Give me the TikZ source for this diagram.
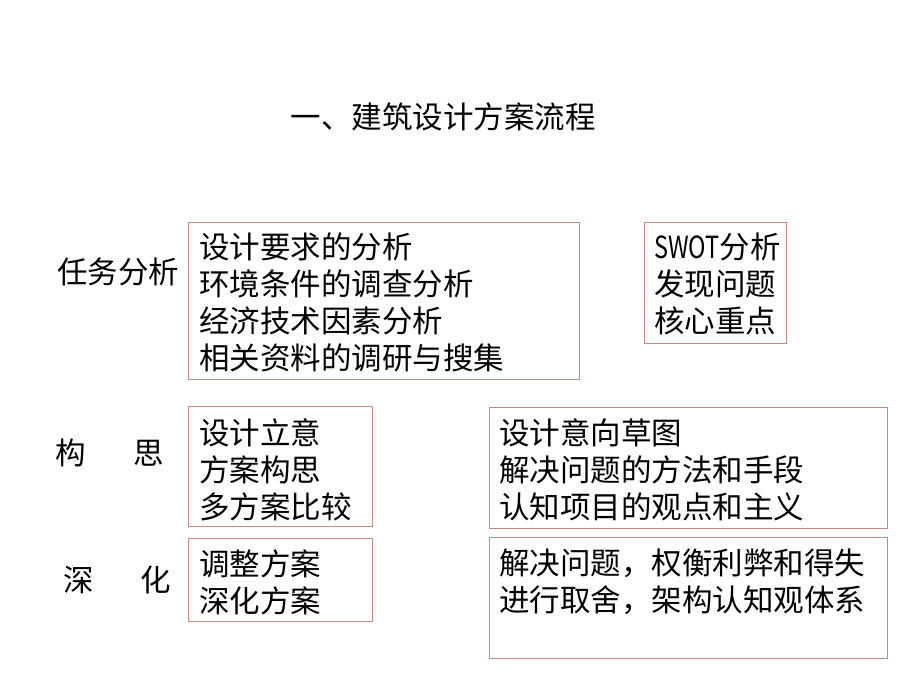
\documentclass[tikz,border=0pt]{standalone}
\usepackage{fontspec}
\usepackage{graphicx}
\setmainfont{Noto Sans CJK SC}
\definecolor{boxline}{RGB}{196,140,128}
\tikzset{
  box/.style={draw=boxline, line width=1.2pt, inner sep=0pt, anchor=north west},
  txt/.style={align=left, inner sep=0pt, anchor=north west, font=\fontsize{30.5pt}{37pt}\selectfont},
  lbl/.style={inner sep=0pt, font=\fontsize{30.5pt}{37pt}\selectfont}
}
\begin{document}
\begin{tikzpicture}[x=1pt,y=-1pt]
\useasboundingbox[fill=white] (0,0) rectangle (920,690);
\node[lbl] (title) at (443,117) {一、建筑设计方案流程};
% labels
\node[lbl, anchor=west] (l1) at (57,272) {任务分析};
\node[lbl] (l2a) at (71,453) {构};
\node[lbl] (l2b) at (149,453) {思};
\node[lbl] (l3a) at (79,580) {深};
\node[lbl] (l3b) at (156,580) {化};
% boxes
\node[box, minimum width=391pt, minimum height=157pt] (b1) at (188,222) {};
\node[box, minimum width=142pt, minimum height=121pt] (b2) at (644,222) {};
\node[box, minimum width=184pt, minimum height=120pt] (b3) at (188,406) {};
\node[box, minimum width=398pt, minimum height=121pt] (b4) at (489,407) {};
\node[box, minimum width=184pt, minimum height=83pt] (b5) at (188,538) {};
\node[box, minimum width=398pt, minimum height=121pt] (b6) at (489,537) {};
% texts
\node[txt] (t1) at (199,233) {设计要求的分析\\环境条件的调查分析\\经济技术因素分析\\相关资料的调研与搜集};
\node[txt] (t2) at (654,233) {\scalebox{0.77}[1]{SWOT}分析\\发现问题\\核心重点};
\node[txt] (t3) at (199,418) {设计立意\\方案构思\\多方案比较};
\node[txt] (t4) at (499,418) {设计意向草图\\解决问题的方法和手段\\认知项目的观点和主义};
\node[txt] (t5) at (199,549) {调整方案\\深化方案};
\node[txt] (t6) at (499,549) {解决问题，权衡利弊和得失\\进行取舍，架构认知观体系};
\end{tikzpicture}
\end{document}
